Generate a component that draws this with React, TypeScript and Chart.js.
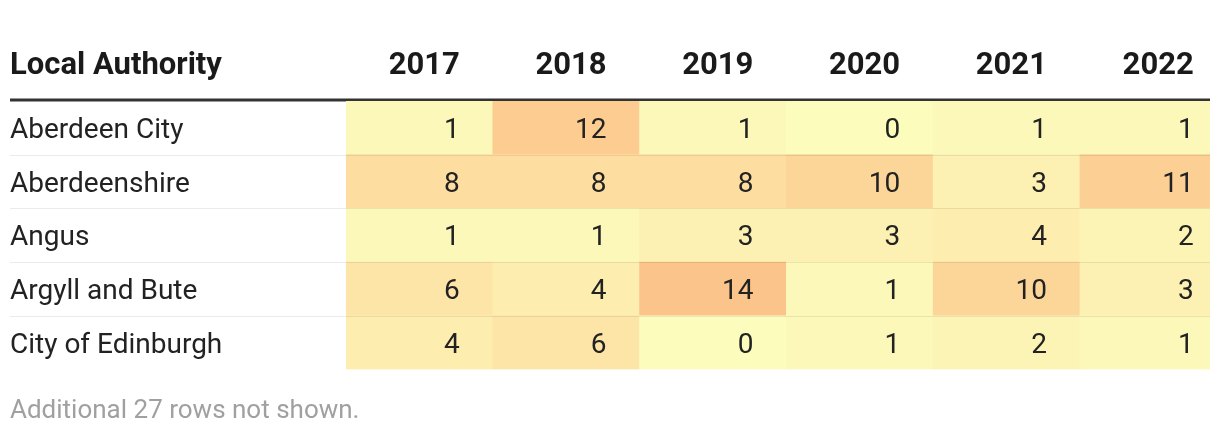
import React, { useEffect, useRef } from "react";
import { Chart, registerables } from "chart.js";

Chart.register(...registerables);

const headerLabel = "Local Authority";
const years = ["2017", "2018", "2019", "2020", "2021", "2022"];
const rowLabels = ["Aberdeen City", "Aberdeenshire", "Angus", "Argyll and Bute", "City of Edinburgh"];
const aberdeenCity = [1, 12, 1, 0, 1, 1];
const aberdeenshire = [8, 8, 8, 10, 3, 11];
const angus = [1, 1, 3, 3, 4, 2];
const argyllAndBute = [6, 4, 14, 1, 10, 3];
const cityOfEdinburgh = [4, 6, 0, 1, 2, 1];
const rows = [aberdeenCity, aberdeenshire, angus, argyllAndBute, cityOfEdinburgh];
const footnote = "Additional 27 rows not shown.";

const LOW = [252, 252, 188];
const MID = [253, 225, 164];
const HIGH = [251, 196, 138];
const MAXV = 14;

function colorFor(v: number): string {
  const t = Math.max(0, Math.min(1, v / MAXV));
  let a: number[], b: number[], u: number;
  if (t < 0.5) { a = LOW; b = MID; u = t / 0.5; } else { a = MID; b = HIGH; u = (t - 0.5) / 0.5; }
  const c = a.map((x, i) => Math.round(x + (b[i] - x) * u));
  return `rgb(${c[0]},${c[1]},${c[2]})`;
}

const FONT = "Roboto, 'Noto Sans', sans-serif";

export default function App() {
  const ref = useRef<HTMLCanvasElement | null>(null);
  useEffect(() => {
    document.body.style.margin = "0";
    const canvas = ref.current!;
    const points: any[] = [];
    rows.forEach((r, ri) => r.forEach((v, ci) => points.push({ x: ci, y: [ri, ri + 1], v })));

    const textPlugin = {
      id: "tableText",
      beforeDatasetsDraw(chart: any) {
        const ctx = chart.ctx;
        ctx.save();
        ctx.fillStyle = "#333333";
        ctx.fillRect(10, 98.5, 1200, 3);
        ctx.restore();
      },
      afterDatasetsDraw(chart: any) {
        const ctx = chart.ctx;
        const xs = chart.scales.x;
        const ys = chart.scales.y;
        ctx.save();
        ctx.strokeStyle = "rgba(0,0,0,0.08)";
        ctx.lineWidth = 1;
        for (let i = 1; i < rows.length; i++) {
          const y = Math.round(ys.getPixelForValue(i)) + 0.5;
          ctx.beginPath();
          ctx.moveTo(10, y);
          ctx.lineTo(1210, y);
          ctx.stroke();
        }
        ctx.fillStyle = "#1a1a1a";
        ctx.font = `bold 31px ${FONT}`;
        ctx.textBaseline = "alphabetic";
        ctx.textAlign = "left";
        ctx.fillText(headerLabel, 10, 74);
        ctx.textAlign = "right";
        years.forEach((yr, ci) => {
          ctx.fillText(yr, xs.getPixelForValue(ci + 0.5) - 33, 74);
        });
        ctx.font = `28px ${FONT}`;
        ctx.fillStyle = "#222222";
        rows.forEach((r, ri) => {
          const cy = (ys.getPixelForValue(ri) + ys.getPixelForValue(ri + 1)) / 2;
          ctx.textAlign = "left";
          ctx.fillText(rowLabels[ri], 10, cy + 10);
          ctx.textAlign = "right";
          r.forEach((v, ci) => {
            ctx.fillText(String(v), xs.getPixelForValue(ci + 0.5) - 33, cy + 10);
          });
        });
        ctx.font = `26px ${FONT}`;
        ctx.fillStyle = "#a0a0a0";
        ctx.textAlign = "left";
        ctx.fillText(footnote, 10, 418);
        ctx.restore();
      },
    };

    const chart = new Chart(canvas, {
      type: "bar",
      data: {
        datasets: [
          {
            data: points,
            backgroundColor: (c: any) => colorFor(c.raw ? c.raw.v : 0),
            borderWidth: 0,
            barPercentage: 1,
            categoryPercentage: 1,
            grouped: false,
          } as any,
        ],
      },
      options: {
        responsive: false,
        animation: false,
        devicePixelRatio: 1,
        layout: { padding: { left: 346, right: 10, top: 101, bottom: 60.5 } },
        plugins: { legend: { display: false }, tooltip: { enabled: false } },
        scales: {
          x: {
            type: "linear",
            display: false,
            offset: false,
            min: -0.5,
            max: 5.386,
            afterBuildTicks: (s: any) => {
              s.ticks = years.map((_, i) => ({ value: i }));
            },
          },
          y: {
            type: "linear",
            display: false,
            min: 0,
            max: rows.length,
            reverse: true,
          },
        },
      },
      plugins: [textPlugin],
    });
    return () => chart.destroy();
  }, []);
  return <canvas ref={ref} width={1220} height={430} style={{ display: "block" }} />;
}
